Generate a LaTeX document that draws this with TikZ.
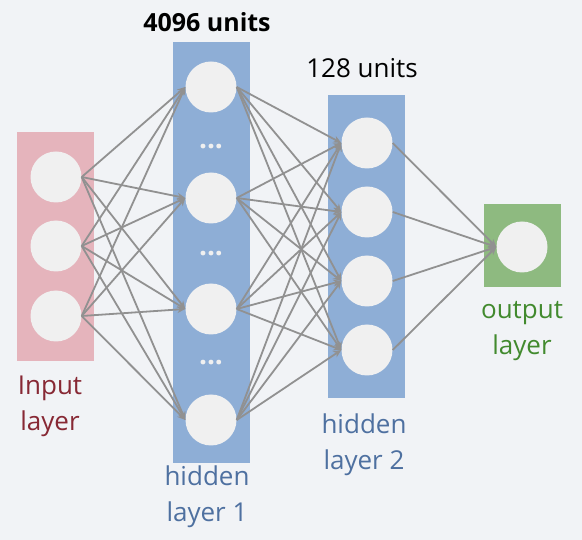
\documentclass[tikz,border=0pt]{standalone}
\usepackage{fontspec}
\setmainfont{Open Sans}
\usetikzlibrary{arrows.meta}
\definecolor{bgpale}{RGB}{241,243,246}
\definecolor{inpink}{RGB}{229,180,188}
\definecolor{hidblue}{RGB}{142,174,214}
\definecolor{outgreen}{RGB}{142,186,128}
\definecolor{cellgray}{RGB}{240,240,240}
\definecolor{wiregray}{RGB}{145,145,145}
\definecolor{inred}{RGB}{135,40,52}
\definecolor{hidtext}{RGB}{78,112,160}
\definecolor{outtext}{RGB}{66,138,46}

\begin{document}
\begin{tikzpicture}[x=1pt, y=-1pt,
        neuron/.style={circle, fill=cellgray, minimum size=51pt, inner sep=0pt},
        layerbox/.style={rectangle, inner sep=0pt, minimum width=77pt},
        link/.style={draw=wiregray, line width=1.8pt, -{Stealth[length=8pt,width=7pt]}},
        caption/.style={font=\fontsize{26}{36}\selectfont, align=center}]
        \fill[bgpale] (0,0) rectangle (582,540);

        % layer boxes
        \node (inbox) [layerbox, fill=inpink, minimum height=229pt] at (55.5,246.5) {};
        \node (hAbox) [layerbox, fill=hidblue, minimum height=421pt] at (211,252.5) {};
        \node (hBbox) [layerbox, fill=hidblue, minimum height=303pt] at (366.5,246.5) {};
        \node (outbox) [layerbox, fill=outgreen, minimum height=83pt] at (522,245.5) {};

        % neurons
        \foreach \i/\y in {1/177,2/246,3/316}
            \node (in\i) [neuron] at (56,\y) {};
        \foreach \i/\y in {1/87,2/198,3/309,4/420}
            \node (hA\i) [neuron] at (211,\y) {};
        \foreach \i/\y in {1/143,2/212,3/281,4/350}
            \node (hB\i) [neuron] at (367,\y) {};
        \node (out) [neuron] at (522,247) {};

        % dots between the hidden layer 1 neurons
        \foreach \i/\y in {1/147,2/254,3/363}
            \node (dots\i) [text=cellgray, font=\fontsize{28}{28}\selectfont\bfseries] at (211,\y) {...};

        % connections
        \foreach \i in {1,2,3}
            \foreach \j in {1,...,4}
                \draw[link] (in\i.east) -- (hA\j.west);
        \foreach \i in {1,...,4}
            \foreach \j in {1,...,4}
                \draw[link] (hA\i.east) -- (hB\j.west);
        \foreach \i in {1,...,4}
            \draw[link] (hB\i.east) -- (out.west);

        % labels
        \node (unitsA) [caption, font=\fontsize{25}{30}\selectfont\bfseries] at (207,22) {4096 units};
        \node (unitsB) [caption] at (362,68) {128 units};
        \node (inlabel) [caption, text=inred] at (50,406) {Input\\layer};
        \node (hAlabel) [caption, text=hidtext] at (207,497) {hidden\\layer 1};
        \node (hBlabel) [caption, text=hidtext] at (364,445) {hidden\\layer 2};
        \node (outlabel) [caption, text=outtext] at (522,331) {output\\layer};
    \end{tikzpicture}
\end{document}
